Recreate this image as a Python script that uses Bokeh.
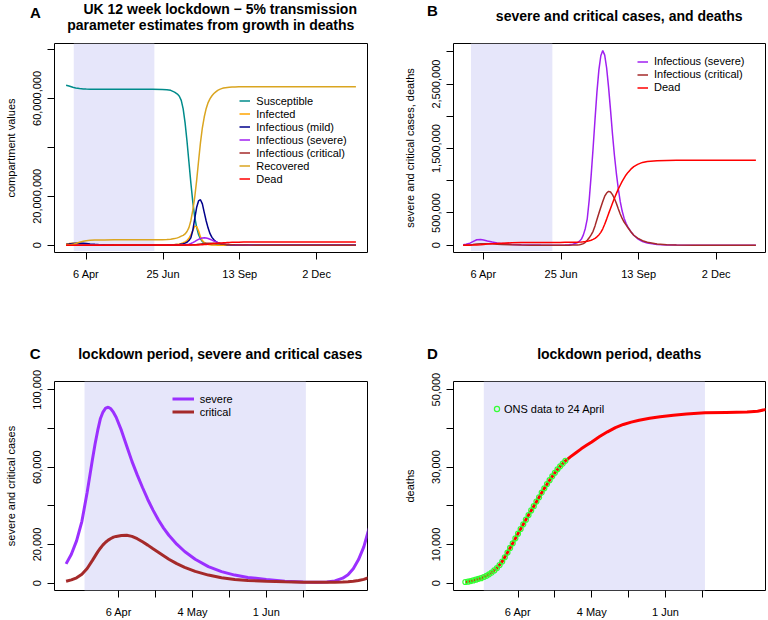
from bokeh.plotting import figure
from bokeh.layouts import column, row
from bokeh.models import Range1d, FixedTicker, Legend, LegendItem, BoxAnnotation
from bokeh.core.properties import value
from bokeh.embed import file_html
from bokeh.resources import INLINE

FONT = "Liberation Sans"

# ---------------- data (t = days after 16 March 2020) ----------------
lockdown = [8, 92]

tA = [0, 3, 7, 10, 14, 18, 21, 25, 30, 35, 40, 50, 60, 70, 80, 90, 100, 105, 109, 113,
      116, 118, 120, 122, 124, 126, 128, 130, 132, 134, 136, 138, 140, 142, 144, 146, 148, 150, 152, 154,
      156, 158, 160, 162, 164, 166, 168, 170, 173, 176, 180, 185, 190, 200, 210, 220, 240, 260, 280, 302]

susceptible_m = [65.4, 65.1, 64.6, 64.3, 64.05, 63.9, 63.85, 63.8, 63.78, 63.76,
                 63.75, 63.74, 63.73, 63.72, 63.71, 63.7, 63.65, 63.55, 63.3, 62.6,
                 61.8, 60.9, 59.2, 55.7, 50.0, 42.5, 34.0, 25.5, 17.8, 11.6,
                 7.4, 4.4, 2.6, 1.5, 0.9, 0.6, 0.45, 0.35, 0.3, 0.27,
                 0.25, 0.24, 0.23, 0.22, 0.21, 0.21, 0.2, 0.2, 0.2, 0.2,
                 0.2, 0.2, 0.2, 0.2, 0.2, 0.2, 0.2, 0.2, 0.2, 0.2]
infected_m = [0.5, 0.65, 0.8, 0.75, 0.6, 0.45, 0.35, 0.25, 0.15, 0.1,
              0.07, 0.04, 0.03, 0.02, 0.02, 0.02, 0.03, 0.06, 0.12, 0.25,
              0.4, 0.55, 0.75, 1.0, 1.35, 1.9, 2.8, 4.2, 6.0, 7.8,
              7.6, 5.9, 3.4, 1.9, 1.1, 0.6, 0.33, 0.18, 0.1, 0.06,
              0.04, 0.025, 0.015, 0.01, 0.01, 0.005, 0.005, 0, 0, 0,
              0, 0, 0, 0, 0, 0, 0, 0, 0, 0]
mild_m = [0.3, 0.45, 0.7, 0.85, 0.9, 0.8, 0.7, 0.5, 0.35, 0.22,
          0.14, 0.06, 0.03, 0.02, 0.015, 0.015, 0.02, 0.04, 0.08, 0.15,
          0.24, 0.33, 0.45, 0.62, 0.85, 1.2, 1.9, 3.0, 6.0, 10.8,
          15.4, 18.1, 18.6, 16.9, 13.3, 9.9, 7.0, 4.7, 3.2, 2.2,
          1.5, 1.05, 0.75, 0.55, 0.4, 0.3, 0.22, 0.17, 0.11, 0.07,
          0.04, 0.02, 0.01, 0, 0, 0, 0, 0, 0, 0]
severe_m = [0.008, 0.015, 0.032, 0.056, 0.085, 0.0902, 0.0824, 0.067, 0.0495, 0.035,
            0.0248, 0.0124, 0.006, 0.003, 0.0016, 0.0007, 0.0006, 0.002, 0.0058, 0.0155,
            0.028, 0.042, 0.063, 0.095, 0.16, 0.26, 0.41, 0.70, 1.08, 1.50,
            1.95, 2.38, 2.72, 2.94, 3.02, 2.95, 2.75, 2.45, 2.10, 1.73,
            1.40, 1.12, 0.88, 0.68, 0.53, 0.42, 0.34, 0.28, 0.21, 0.155,
            0.10, 0.058, 0.033, 0.011, 0.004, 0.0015, 0.0002, 0, 0, 0]
critical_m = [0.0008, 0.0017, 0.0046, 0.0096, 0.0181, 0.0231, 0.0245, 0.0245, 0.0214, 0.0169,
              0.0124, 0.0061, 0.0028, 0.0014, 0.0009, 0.0006, 0.00045, 0.0006, 0.0009, 0.0018,
              0.0032, 0.005, 0.008, 0.014, 0.025, 0.045, 0.077, 0.115, 0.16, 0.215,
              0.30, 0.40, 0.495, 0.59, 0.68, 0.76, 0.81, 0.835, 0.825, 0.785,
              0.725, 0.65, 0.565, 0.485, 0.415, 0.36, 0.315, 0.27, 0.21, 0.155,
              0.11, 0.07, 0.045, 0.02, 0.008, 0.004, 0.001, 0.0003, 0.0001, 0]
recovered_m = [0.05, 0.12, 0.35, 0.7, 1.2, 1.6, 1.85, 2.0, 2.1, 2.15,
               2.18, 2.2, 2.21, 2.22, 2.22, 2.23, 2.25, 2.3, 2.45, 2.7,
               3.0, 3.3, 3.7, 4.0, 4.6, 5.6, 7.2, 10.0, 14.2, 19.5,
               26.3, 34.2, 41.8, 48.0, 52.5, 55.9, 58.3, 59.9, 61.1, 62.0,
               62.7, 63.3, 63.7, 64.0, 64.25, 64.4, 64.5, 64.6, 64.65, 64.7,
               64.75, 64.78, 64.8, 64.8, 64.8, 64.8, 64.8, 64.8, 64.8, 64.8]
dead_m = [0.0002, 0.0006, 0.0013, 0.0023, 0.0047, 0.0091, 0.0128, 0.0176, 0.0234, 0.0285,
          0.0322, 0.0372, 0.0406, 0.0425, 0.0435, 0.0439, 0.0441, 0.0442, 0.0443, 0.0447,
          0.0452, 0.046, 0.048, 0.05, 0.053, 0.057, 0.062, 0.069, 0.078, 0.09,
          0.107, 0.13, 0.16, 0.2, 0.255, 0.325, 0.405, 0.49, 0.57, 0.65,
          0.73, 0.8, 0.87, 0.93, 0.99, 1.04, 1.09, 1.13, 1.18, 1.22,
          1.255, 1.285, 1.30, 1.312, 1.316, 1.317, 1.318, 1.318, 1.318, 1.318]

tC = [1, 3, 5, 7, 9, 11, 12, 13, 14, 15, 16, 17, 18, 19, 20, 22, 24, 26, 28, 30,
      32, 34, 36, 38, 40, 43, 46, 50, 55, 60, 65, 70, 77, 84, 91, 96, 100, 103, 106, 108,
      110, 112, 114, 116]
severe_k = [10, 15, 22, 32, 47, 64, 72, 79, 85, 88.5, 90.5, 91, 90.2, 88.3, 85.8, 79, 71, 63, 56, 49.5,
            43.3, 37.8, 32.8, 28.5, 24.8, 20.2, 16.4, 12.4, 8.6, 6.0, 4.2, 3.0, 1.9, 1.0, 0.6, 0.5, 0.6, 1.2, 2.6, 4.4,
            7.5, 12.2, 18.8, 28.5]
critical_k = [1.0, 1.7, 2.8, 4.6, 7.6, 11.8, 14.0, 16.2, 18.1, 19.8, 21.2, 22.3, 23.1, 23.8, 24.2, 24.7, 24.8, 24.2, 23.0, 21.4,
              19.7, 17.8, 16.0, 14.2, 12.4, 10.1, 8.2, 6.1, 4.2, 2.8, 1.9, 1.4, 1.0, 0.75, 0.55, 0.48, 0.45, 0.5, 0.62, 0.78,
              1.0, 1.4, 2.0, 3.0]

tD = [1, 3, 5, 7, 9, 11, 13, 15, 17, 19, 21, 23, 25, 27, 29, 31, 33, 35, 37, 39,
      41, 43, 45, 47, 49, 52, 55, 58, 61, 64, 67, 71, 75, 80, 85, 92, 100, 108, 112, 116]
deaths_k = [0.26, 0.55, 0.9, 1.3, 1.9, 2.75, 3.9, 5.6, 7.9, 10.3, 12.8, 15.2, 17.6, 19.9, 22.2, 24.5, 26.6, 28.5, 30.2, 31.6,
            32.7, 33.7, 34.7, 35.6, 36.5, 37.9, 39.1, 40.2, 41.0, 41.6, 42.1, 42.6, 43.0, 43.4, 43.7, 44.0, 44.1, 44.2, 44.4, 45.0]

ons_t = [1, 2, 3, 4, 5, 6, 7, 8, 9, 10, 11, 12, 13, 14, 15, 16, 17, 18, 19, 20,
         21, 22, 23, 24, 25, 26, 27, 28, 29, 30, 31, 32, 33, 34, 35, 36, 37, 38, 39]
ons_k = [0.3, 0.4, 0.55, 0.7, 0.9, 1.1, 1.3, 1.6, 1.9, 2.3, 2.75, 3.3, 3.9, 4.7, 5.6, 6.7, 7.9, 9.1, 10.3, 11.6,
         12.8, 14.0, 15.2, 16.4, 17.6, 18.8, 19.9, 21.1, 22.2, 23.4, 24.5, 25.6, 26.6, 27.6, 28.5, 29.4, 30.2, 30.9, 31.6]

ab_xticks = [21, 101, 181, 261]
ab_xlabels = ["6 Apr", "25 Jun", "13 Sep", "2 Dec"]
a_yticks = [0, 20000000, 40000000, 60000000, 80000000]
a_ylabels = ["0", "20,000,000", "", "60,000,000", ""]
b_yticks = [0, 500000, 1000000, 1500000, 2000000, 2500000, 3000000]
b_ylabels = ["0", "500,000", "", "1,500,000", "", "2,500,000", ""]
cd_xticks = [21, 35, 49, 63, 77, 91]
cd_xlabels = ["6 Apr", "", "4 May", "", "1 Jun", ""]
c_yticks = [0, 20000, 40000, 60000, 80000, 100000]
c_ylabels = ["0", "20,000", "", "60,000", "", "100,000"]
d_yticks = [0, 10000, 20000, 30000, 40000, 50000]
d_ylabels = ["0", "10,000", "", "30,000", "", "50,000"]

names_A = ["Susceptible", "Infected", "Infectious (mild)", "Infectious (severe)",
           "Infectious (critical)", "Recovered", "Dead"]
names_B = ["Infectious (severe)", "Infectious (critical)", "Dead"]
names_C = ["severe", "critical"]
name_D = "ONS data to 24 April"

panel_letters = ["A", "B", "C", "D"]
titles_top = ["UK 12 week lockdown \u2212 5% transmission",
              "parameter estimates from growth in deaths",
              "severe and critical cases, and deaths"]
titles_bottom = ["lockdown period, severe and critical cases", "lockdown period, deaths"]

# ---------------- styling ----------------
COL = {"S": "#008b8b", "I": "#ffa500", "mild": "#00008b", "severe": "#a020f0",
       "critical": "#a52a2a", "R": "#daa520", "dead": "#ff0000"}


def make_fig(w, h, l, r, t, b, xr, yr):
    p = figure(width=w, height=h, x_range=Range1d(*xr), y_range=Range1d(*yr),
               output_backend="svg", toolbar_location=None, title_location=None,
               min_border_left=l, min_border_right=r, min_border_top=t, min_border_bottom=b)
    p.outline_line_color = "black"
    p.outline_line_width = 1
    p.outline_line_alpha = 1
    p.xgrid.visible = False
    p.ygrid.visible = False
    return p


def style_axes(p, xt, xl, yt, yl, ylabel, x_stand, y_stand, lab_stand):
    for ax, ticks, labs in ((p.xaxis[0], xt, xl), (p.yaxis[0], yt, yl)):
        ax.ticker = FixedTicker(ticks=ticks)
        ax.major_label_overrides = {tk: lb for tk, lb in zip(ticks, labs)}
        ax.axis_line_color = None
        ax.major_tick_in = 0
        ax.major_tick_out = 7
        ax.major_tick_line_color = "black"
        ax.minor_tick_line_color = None
        ax.major_label_text_font = FONT
        ax.major_label_text_font_size = "11px"
        ax.major_label_text_color = "black"
    p.xaxis[0].major_label_standoff = x_stand
    p.yaxis[0].major_label_standoff = y_stand
    p.yaxis[0].major_label_orientation = "vertical"
    p.yaxis[0].axis_label = ylabel
    p.yaxis[0].axis_label_text_font = FONT
    p.yaxis[0].axis_label_text_font_size = "11px"
    p.yaxis[0].axis_label_text_font_style = "normal"
    p.yaxis[0].axis_label_text_color = "black"
    p.yaxis[0].axis_label_standoff = lab_stand


def add_legend(p, fx, fy, items, gw, gh, standoff):
    # fx, fy: bottom-left corner of the legend, in pixels from the frame's bottom-left
    leg = Legend(items=[LegendItem(label=lb, renderers=[r]) for lb, r in items],
                 location=(fx, fy), glyph_width=gw, glyph_height=gh, label_height=gh,
                 label_standoff=standoff, padding=0, margin=0, spacing=0,
                 border_line_color=None, background_fill_alpha=0,
                 label_text_font=FONT, label_text_font_size="11px", label_text_color="black")
    p.add_layout(leg)


def shade(p, bottom=None):
    kw = dict(left=lockdown[0], right=lockdown[1], fill_color="#e6e6fa", fill_alpha=1,
              line_color=None, level="underlay")
    if bottom is not None:
        kw["bottom"] = bottom
    p.add_layout(BoxAnnotation(**kw))


def text_strip(h, letters, letter_pos, titles, title_pos):
    s = figure(width=768, height=h, x_range=Range1d(0, 768), y_range=Range1d(h, 0),
               output_backend="svg", toolbar_location=None, title_location=None,
               x_axis_type=None, y_axis_type=None, min_border=0)
    s.outline_line_color = None
    s.xgrid.visible = False
    s.ygrid.visible = False
    s.text(x=[q[0] for q in letter_pos], y=[q[1] for q in letter_pos], text=letters,
           text_font=value(FONT), text_font_size=value("15px"), text_font_style="bold",
           text_align="center", text_baseline="middle", text_color="black")
    s.text(x=[q[0] for q in title_pos], y=[q[1] for q in title_pos], text=titles,
           text_font=value(FONT), text_font_size=value("14px"), text_font_style="bold",
           text_align="center", text_baseline="middle", text_color="black")
    return s


M = 1e6
K = 1e3

# ---------------- Panel A ----------------
pA = make_fig(384, 270, 54, 17, 3, 58, (-12.08, 314.08), (-2.98e6, 82.45e6))
shade(pA, -2.33e6)
series_A = [susceptible_m, infected_m, mild_m, severe_m, critical_m, recovered_m, dead_m]
cols_A = [COL["S"], COL["I"], COL["mild"], COL["severe"], COL["critical"], COL["R"], COL["dead"]]
rA = []
for vals, c in zip(series_A, cols_A):
    rA.append(pA.line(tA, [v * M for v in vals], line_color=c, line_width=1.5))
style_axes(pA, ab_xticks, ab_xlabels, a_yticks, a_ylabels, "compartment values", 8, 6, 14)
add_legend(pA, 185.3, 66.9, list(zip(names_A, rA)), 11, 13, 6)

# ---------------- Panel B ----------------
pB = make_fig(384, 270, 69, 3, 3, 58, (-10.0, 311.9), (-113e3, 3.13e6))
shade(pB, -88e3)
rB = []
for vals, c in zip([severe_m, critical_m, dead_m], [COL["severe"], COL["critical"], COL["dead"]]):
    rB.append(pB.line(tA, [v * M for v in vals], line_color=c, line_width=1.5))
style_axes(pB, ab_xticks, ab_xlabels, b_yticks, b_ylabels, "severe and critical cases, deaths", 8, 6, 14)
add_legend(pB, 184.0, 158.5, list(zip(names_B, rB)), 11, 13, 6)

# ---------------- Panel C ----------------
pC = make_fig(384, 255, 54, 17, 16, 30, (-3.4, 115.4), (-3770, 104300))
shade(pC)
rC = []
for vals, c in zip([severe_k, critical_k], ["#9b30ff", COL["critical"]]):
    rC.append(pC.line(tC, [v * K for v in vals], line_color=c, line_width=3))
style_axes(pC, cd_xticks, cd_xlabels, c_yticks, c_ylabels, "severe and critical cases", 8, 6, 14)
add_legend(pC, 117.7, 171.8, list(zip(names_C, rC)), 22, 13, 6)

# ---------------- Panel D ----------------
pD = make_fig(384, 255, 69, 3, 16, 30, (-3.5, 115.0), (-1890, 52100))
shade(pD)
pD.line(tD, [v * K for v in deaths_k], line_color=COL["dead"], line_width=3)
rD = pD.scatter(ons_t, [v * K for v in ons_k], marker="circle", size=5,
                fill_color=None, line_color="#33ff33", line_width=1.2)
style_axes(pD, cd_xticks, cd_xlabels, d_yticks, d_ylabels, "deaths", 8, 6, 14)
add_legend(pD, 36.9, 174.8, [(name_D, rD)], 13, 13, 1)

# ---------------- title strips ----------------
strip1 = text_strip(40, panel_letters[:2], [(35, 11.5), (432, 10)],
                    titles_top, [(219.7, 8), (210.3, 24), (618.7, 15.7)])
strip2 = text_strip(55, panel_letters[2:], [(34.7, 43.3), (432, 43.3)],
                    titles_bottom, [(219.7, 43.3), (618.7, 43.3)])

layout = column(strip1, row(pA, pB), strip2, row(pC, pD))
open("out.html", "w").write(file_html(layout, INLINE))
